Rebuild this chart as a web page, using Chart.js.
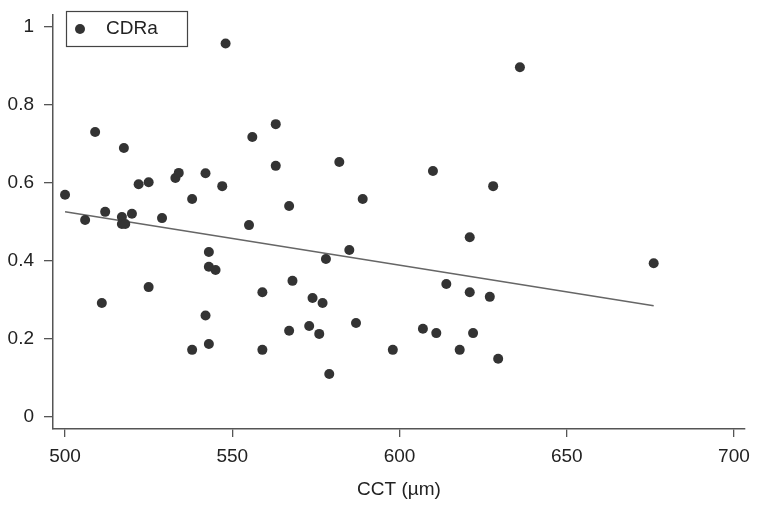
<!DOCTYPE html>
<html>
<head>
<meta charset="utf-8">
<script src="https://cdn.jsdelivr.net/npm/chart.js@4.4.0/dist/chart.umd.min.js"></script>
<style>
  html, body { margin: 0; padding: 0; background: #fff; }
</style>
</head>
<body>
<canvas id="cdrChart" width="758" height="508"></canvas>
<script>
// CCT (µm) vs CDRa
const cctValues = [
  500, 506, 509, 511, 512, 517, 517, 518, 517.6, 520,
  522, 525, 525, 529, 533, 534, 538, 538, 542, 542,
  543, 543, 545, 543, 547, 548, 556, 555, 559, 559,
  563, 563, 567, 568, 567, 574, 573, 577, 576, 578,
  579, 582, 585, 589, 587, 598, 610, 607, 611, 614,
  618, 621, 621, 622, 627, 628, 629.5, 636, 676
];
const cdrValues = [
  0.57, 0.505, 0.731, 0.292, 0.526, 0.513, 0.495, 0.495, 0.69, 0.521,
  0.597, 0.602, 0.333, 0.51, 0.613, 0.626, 0.559, 0.172, 0.625, 0.26,
  0.423, 0.385, 0.377, 0.187, 0.592, 0.958, 0.718, 0.492, 0.32, 0.172,
  0.751, 0.644, 0.541, 0.349, 0.221, 0.305, 0.233, 0.292, 0.213, 0.405,
  0.11, 0.654, 0.428, 0.559, 0.241, 0.172, 0.631, 0.226, 0.215, 0.341,
  0.172, 0.461, 0.32, 0.215, 0.308, 0.592, 0.149, 0.897, 0.394
];
const trendCct = [500, 676];
const trendCdr = [0.526, 0.285];
const xTicks = [500, 550, 600, 650, 700];
const yTicks = [0, 0.2, 0.4, 0.6, 0.8, 1];
const seriesName = "CDRa";
const xTitle = "CCT (µm)";

const axisColor = "#555";
const fontFamily = "'Liberation Sans', Arial, sans-serif";

// legend box inside the plot, top left
const boxLegend = {
  id: "boxLegend",
  afterDraw(chart) {
    const c = chart.ctx;
    const ds = chart.data.datasets[0];
    c.save();
    c.strokeStyle = "#444";
    c.lineWidth = 1.2;
    c.strokeRect(66.5, 11.5, 121, 35);
    c.fillStyle = ds.backgroundColor;
    c.beginPath();
    c.arc(80, 29, 5, 0, Math.PI * 2);
    c.fill();
    c.fillStyle = "#222";
    c.font = "19px " + fontFamily;
    c.textBaseline = "middle";
    c.fillText(ds.label, 106, 29);
    c.restore();
  }
};

const ctx = document.getElementById("cdrChart").getContext("2d");

new Chart(ctx, {
  type: "scatter",
  data: {
    datasets: [
      {
        label: seriesName,
        data: cctValues.map((x, i) => ({ x: x, y: cdrValues[i] })),
        backgroundColor: "#333",
        borderWidth: 0,
        pointRadius: 5,
        pointHoverRadius: 5,
      },
      {
        label: "trend",
        data: trendCct.map((x, i) => ({ x: x, y: trendCdr[i] })),
        showLine: true,
        borderColor: "#666",
        borderWidth: 1.5,
        pointRadius: 0,
        fill: false,
      },
    ],
  },
  options: {
    responsive: false,
    animation: false,
    layout: { padding: { top: 15, right: 13, left: 0, bottom: 0 } },
    plugins: {
      legend: { display: false },
      tooltip: { enabled: false },
    },
    scales: {
      x: {
        type: "linear",
        min: 496.4,
        max: 703.3,
        afterBuildTicks: (s) => { s.ticks = xTicks.map((v) => ({ value: v })); },
        afterFit: (s) => {
          s.height = 79;
          s.paddingLeft = 0;
          s.paddingRight = 0;
        },
        ticks: {
          color: "#222",
          padding: 8,
          font: { family: fontFamily, size: 19 },
          callback: (v) => String(v),
        },
        grid: { drawOnChartArea: false, drawTicks: true, tickLength: 8, color: axisColor, lineWidth: 1.3 },
        border: { display: true, color: axisColor, width: 1.5 },
        title: {
          display: true,
          text: xTitle,
          color: "#222",
          font: { family: fontFamily, size: 19 },
          padding: { top: 0, bottom: 7 },
        },
      },
      y: {
        type: "linear",
        min: -0.031,
        max: 1.031,
        afterBuildTicks: (s) => { s.ticks = yTicks.map((v) => ({ value: v })); },
        afterFit: (s) => {
          s.width = 53;
          s.paddingTop = 0;
          s.paddingBottom = 0;
        },
        ticks: {
          color: "#222",
          padding: 10,
          font: { family: fontFamily, size: 19 },
          callback: (v) => String(Number(v.toFixed(2))),
        },
        grid: { drawOnChartArea: false, drawTicks: true, tickLength: 9, color: axisColor, lineWidth: 1.3 },
        border: { display: true, color: axisColor, width: 1.5 },
      },
    },
  },
  plugins: [boxLegend],
});
</script>
</body>
</html>
